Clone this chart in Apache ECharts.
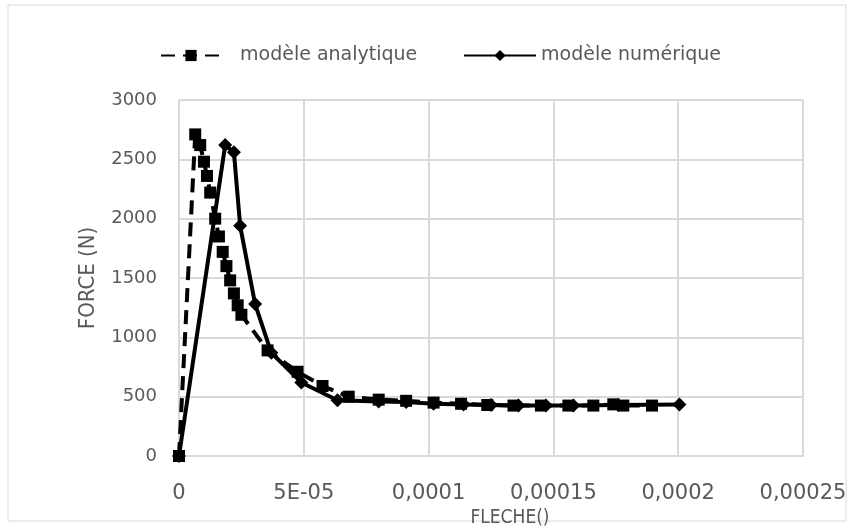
<!DOCTYPE html>
<html>
<head>
  <meta charset="utf-8">
  <title>Force / flèche</title>
  <script src="https://cdn.jsdelivr.net/npm/echarts@6/dist/echarts.min.js"></script>
  <style>
    html, body { margin: 0; padding: 0; background: #fff; }
    #main { width: 853px; height: 527px; }
  </style>
</head>
<body>
  <div id="main"></div>
  <script type="text/javascript">
    // flèche (m) / force (N)
    var analyticX = [0, 0.65e-5, 0.85e-5, 1.0e-5, 1.12e-5, 1.25e-5, 1.45e-5, 1.6e-5, 1.75e-5, 1.9e-5, 2.05e-5, 2.2e-5, 2.35e-5, 2.5e-5,
      3.55e-5, 4.75e-5, 5.75e-5, 6.8e-5, 8.0e-5, 9.1e-5, 10.2e-5, 11.3e-5, 12.35e-5, 13.4e-5, 14.5e-5, 15.6e-5, 16.6e-5, 17.4e-5, 17.8e-5, 18.95e-5];
    var analyticY = [0, 2710, 2620, 2480, 2360, 2220, 2000, 1850, 1720, 1600, 1480, 1370, 1270, 1190,
      890, 710, 590, 500, 475, 465, 450, 440, 430, 425, 425, 425, 425, 435, 425, 425];

    var numericX = [0, 1.85e-5, 2.2e-5, 2.45e-5, 3.05e-5, 3.7e-5, 4.9e-5, 6.35e-5, 8.0e-5, 9.1e-5, 10.2e-5, 11.4e-5, 12.5e-5, 13.6e-5, 14.7e-5, 15.8e-5, 17.6e-5, 20.05e-5];
    var numericY = [0, 2620, 2560, 1940, 1280, 870, 620, 470, 460, 455, 440, 435, 430, 425, 425, 425, 430, 435];

    var xTickLabels = ['0', '5E-05', '0,0001', '0,00015', '0,0002', '0,00025'];
    var yTicks = [0, 500, 1000, 1500, 2000, 2500, 3000];

    function pairs(xs, ys) {
      return xs.map(function (x, i) { return [x, ys[i]]; });
    }

    var myChart = echarts.init(document.getElementById('main'));
    var grey = '#595959';
    var gridGrey = '#d9d9d9';
    var legendText = { fontFamily: 'DejaVu Sans', fontSize: 19, color: grey };

    var option = {
      backgroundColor: '#fff',
      animation: false,
      graphic: [{
        type: 'rect',
        shape: { x: 8, y: 5, width: 838, height: 516 },
        style: { fill: 'none', stroke: gridGrey, lineWidth: 1 },
        silent: true
      }],
      legend: [
        {
          top: 41,
          left: 155,
          itemWidth: 60,
          itemHeight: 14,
          textStyle: Object.assign({ padding: [0, 0, 0, 14] }, legendText),
          data: ['modèle analytique']
        },
        {
          top: 41,
          left: 458,
          itemWidth: 72,
          itemHeight: 14,
          textStyle: legendText,
          data: ['modèle numérique']
        }
      ],
      grid: { left: 179, right: 50, top: 100, bottom: 71, outerBoundsMode: 'none' },
      xAxis: {
        type: 'value',
        min: 0,
        max: 0.00025,
        interval: 0.00005,
        name: 'FLECHE()',
        nameLocation: 'middle',
        nameGap: 48,
        nameTextStyle: { fontFamily: 'DejaVu Sans Condensed', fontSize: 19, color: grey, padding: [0, 0, 0, 38] },
        axisLine: { show: true, lineStyle: { color: gridGrey, width: 2 } },
        axisTick: { show: false },
        splitLine: { show: true, lineStyle: { color: gridGrey, width: 2 } },
        axisLabel: {
          margin: 27,
          fontFamily: 'DejaVu Sans',
          fontSize: 21,
          color: grey,
          formatter: function (v) {
            return xTickLabels[Math.round(v / 0.00005)];
          }
        }
      },
      yAxis: {
        type: 'value',
        min: yTicks[0],
        max: yTicks[yTicks.length - 1],
        interval: 500,
        name: 'FORCE (N)',
        nameLocation: 'middle',
        nameGap: 80,
        nameTextStyle: { fontFamily: 'DejaVu Sans Condensed', fontSize: 22, color: grey },
        axisLine: { show: false },
        axisTick: { show: false },
        splitLine: { show: true, lineStyle: { color: gridGrey, width: 2 } },
        axisLabel: {
          margin: 22,
          fontFamily: 'DejaVu Sans',
          fontSize: 18,
          color: grey,
          formatter: function (v) { return String(v); }
        }
      },
      series: [
        {
          name: 'modèle analytique',
          type: 'line',
          data: pairs(analyticX, analyticY),
          symbol: 'rect',
          symbolSize: 12,
          itemStyle: { color: '#000' },
          lineStyle: { color: '#000', width: 4, type: [14, 8] },
          z: 3
        },
        {
          name: 'modèle numérique',
          type: 'line',
          data: pairs(numericX, numericY),
          symbol: 'diamond',
          symbolSize: 14,
          itemStyle: { color: '#000' },
          lineStyle: { color: '#000', width: 4 },
          z: 2
        }
      ]
    };

    myChart.setOption(option);
  </script>
</body>
</html>
